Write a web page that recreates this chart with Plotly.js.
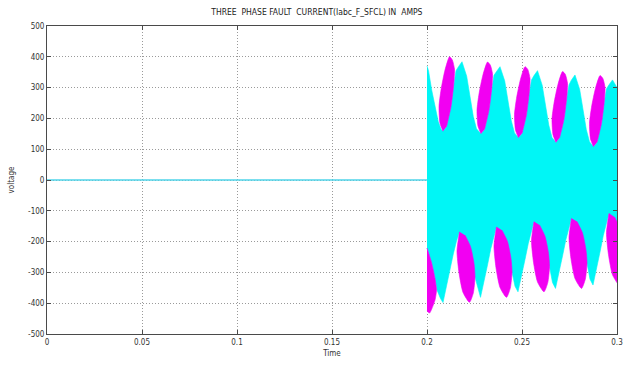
<!DOCTYPE html>
<html>
<head>
<meta charset="utf-8">
<script src="https://cdn.plot.ly/plotly-3.0.1.min.js"></script>
<style>html,body{margin:0;padding:0;background:#fff;}#chart{width:625px;height:369px;}</style>
</head>
<body>
<div id="chart"></div>
<script>
// ---- data ----
// pre-fault phase current (flat at zero until the fault at 0.2 s)
var preFaultTime = [0, 0.2];
var preFaultCurrent = [0, 0];

// outline of the cyan phase after the fault: upper envelope
var cyanUpperTime = [0.2, 0.20079, 0.20247, 0.20421, 0.20595, 0.20737, 0.20842, 0.21026, 0.21263, 0.21395, 0.21474, 0.21526, 0.21658, 0.21842,
  0.22089, 0.22263, 0.22437, 0.22605, 0.22842, 0.23026, 0.23263, 0.23395, 0.23474, 0.23526, 0.23658, 0.23842,
  0.24089, 0.24263, 0.24437, 0.24605, 0.24816, 0.25, 0.25237, 0.25368, 0.25447, 0.255, 0.25632, 0.25816,
  0.26063, 0.26237, 0.26411, 0.26579, 0.26789, 0.26974, 0.27211, 0.27342, 0.27421, 0.27474, 0.27605, 0.27789,
  0.28037, 0.28211, 0.28384, 0.28553, 0.28763, 0.28947, 0.29184, 0.29316, 0.29395, 0.29447, 0.29579, 0.29763, 0.3];
var cyanUpperCurrent = [370, 355, 292, 238, 189, 165, 158, 173, 238, 303, 335, 355, 368, 384,
  337, 272, 206, 166, 150, 164, 227, 290, 320, 340, 352, 368,
  322, 257, 192, 153, 137, 151, 213, 275, 306, 325, 339, 355,
  308, 243, 178, 138, 122, 136, 198, 260, 290, 309, 325, 341,
  294, 229, 164, 124, 108, 122, 184, 246, 277, 296, 309, 325, 300];

// outline of the cyan phase after the fault: lower envelope
var cyanLowerTime = [0.2, 0.20247, 0.20421, 0.20526, 0.20711, 0.20842, 0.21037, 0.21211, 0.21384, 0.21553, 0.21711,
  0.22526, 0.22684, 0.22816, 0.23011, 0.23184, 0.23358, 0.23526, 0.23658,
  0.24474, 0.24632, 0.24789, 0.24984, 0.25158, 0.25332, 0.255, 0.25632,
  0.26447, 0.26605, 0.26763, 0.26958, 0.27132, 0.27305, 0.27474, 0.27605,
  0.28421, 0.28579, 0.28737, 0.28932, 0.29105, 0.29279, 0.29447, 0.29579, 0.3];
var cyanLowerCurrent = [-221, -270, -320, -357, -385, -398, -346, -292, -240, -198, -168,
  -315, -351, -381, -328, -276, -223, -182, -152,
  -299, -345, -363, -311, -258, -206, -165, -135,
  -281, -333, -352, -300, -247, -195, -154, -124,
  -270, -322, -341, -287, -234, -180, -138, -108, -250];

// visible magenta phase (crests above the cyan band), one outline per crest, null between
var magentaUpperTime = [
  0.20842, 0.20684, 0.20632, 0.20737, 0.20947, 0.21184, 0.21332, 0.21447, 0.21432, 0.21395, 0.21263, 0.21026, null,
  0.22842, 0.22684, 0.22632, 0.22737, 0.22947, 0.23184, 0.23332, 0.23447, 0.23432, 0.23395, 0.23263, 0.23026, null,
  0.24816, 0.24658, 0.24605, 0.24711, 0.24921, 0.25158, 0.25305, 0.25421, 0.25405, 0.25368, 0.25237, 0.25, null,
  0.26789, 0.26632, 0.26579, 0.26684, 0.26895, 0.27132, 0.27279, 0.27395, 0.27379, 0.27342, 0.27211, 0.26974, null,
  0.28763, 0.28605, 0.28553, 0.28658, 0.28868, 0.29105, 0.29253, 0.29368, 0.29353, 0.29316, 0.29184, 0.28947];
var magentaUpperCurrent = [
  158, 184, 238, 292, 357, 400, 390, 360, 330, 303, 238, 173, null,
  150, 175, 227, 279, 342, 383, 373, 345, 316, 290, 227, 164, null,
  137, 162, 213, 265, 327, 368, 359, 330, 301, 275, 213, 151, null,
  122, 147, 198, 249, 311, 352, 343, 314, 286, 260, 198, 136, null,
  108, 133, 184, 236, 298, 339, 330, 301, 272, 246, 184, 122];

// visible magenta phase (troughs below the cyan band)
var magentaLowerTime = [
  0.2, 0.20247, 0.20421, 0.205, 0.20421, 0.20132, 0.2, null,
  0.21711, 0.21579, 0.21684, 0.21895, 0.22237, 0.22437, 0.22526, 0.22474, 0.22289, 0.22, null,
  0.23658, 0.23526, 0.23632, 0.23842, 0.24184, 0.24384, 0.24474, 0.24421, 0.24237, 0.23947, null,
  0.25632, 0.255, 0.25605, 0.25816, 0.26158, 0.26358, 0.26447, 0.26395, 0.26211, 0.25921, null,
  0.27605, 0.27474, 0.27579, 0.27789, 0.28132, 0.28332, 0.28421, 0.28368, 0.28184, 0.27895, null,
  0.29579, 0.29447, 0.29553, 0.29763, 0.30105, 0.30305, 0.30395, 0.30342, 0.30158, 0.29868];
var magentaLowerCurrent = [
  -221, -270, -320, -357, -390, -432, -425, null,
  -168, -230, -301, -365, -397, -367, -315, -271, -216, -179, null,
  -152, -214, -285, -349, -381, -351, -299, -255, -200, -163, null,
  -135, -197, -267, -331, -363, -333, -281, -238, -183, -146, null,
  -124, -186, -256, -320, -352, -322, -270, -227, -172, -135, null,
  -108, -171, -243, -308, -340, -310, -256, -212, -157, -120];

var xTickValues = [0, 0.05, 0.1, 0.15, 0.2, 0.25, 0.3];
var xTickLabels = ['0', '0.05', '0.1', '0.15', '0.2', '0.25', '0.3'];
var yTickValues = [-500, -400, -300, -200, -100, 0, 100, 200, 300, 400, 500];
var yTickLabels = ['-500', '-400', '-300', '-200', '-100', '0', '100', '200', '300', '400', '500'];

// ---- build traces ----
var CYAN = '#00f6f6';
var MAGENTA = '#f200f2';
var cyanPolyT = cyanUpperTime.concat(cyanLowerTime.slice().reverse());
var cyanPolyV = cyanUpperCurrent.concat(cyanLowerCurrent.slice().reverse());

var traces = [
  {x: preFaultTime, y: preFaultCurrent, type: 'scatter', mode: 'lines',
   line: {color: '#4fd4ea', width: 1.3}, hoverinfo: 'skip'},
  {x: cyanPolyT, y: cyanPolyV, type: 'scatter', mode: 'lines', fill: 'toself',
   fillcolor: CYAN, line: {color: CYAN, width: 0.6}, hoverinfo: 'skip'},
  {x: magentaUpperTime, y: magentaUpperCurrent, type: 'scatter', mode: 'lines', fill: 'toself',
   fillcolor: MAGENTA, line: {color: MAGENTA, width: 0.6, shape: 'spline', smoothing: 0.6},
   connectgaps: false, hoverinfo: 'skip'},
  {x: magentaLowerTime, y: magentaLowerCurrent, type: 'scatter', mode: 'lines', fill: 'toself',
   fillcolor: MAGENTA, line: {color: MAGENTA, width: 0.6, shape: 'spline', smoothing: 0.6},
   connectgaps: false, hoverinfo: 'skip'}
];

var FONT = 'Liberation Sans Narrow, DejaVu Sans Condensed, Arial Narrow, sans-serif';
var axisCommon = {
  showgrid: true, gridcolor: '#9a9a9a', griddash: '1px,2px', gridwidth: 1,
  zeroline: false, showline: true, linecolor: '#4a4a4a', linewidth: 1,
  mirror: 'ticks', ticks: 'inside', ticklen: 4, tickcolor: '#4a4a4a',
  tickfont: {family: FONT, size: 8, color: '#333'}
};

var layout = {
  width: 625, height: 369,
  margin: {l: 47, r: 8, t: 26, b: 35},
  paper_bgcolor: '#ffffff', plot_bgcolor: '#ffffff',
  showlegend: false,
  title: {text: 'THREE  PHASE FAULT  CURRENT(Iabc_F_SFCL) IN  AMPS',
          font: {family: FONT, size: 8.5, color: '#222'},
          x: 0.507, xanchor: 'center', y: 0.967, yanchor: 'middle'},
  xaxis: Object.assign({}, axisCommon, {
    range: [0, 0.3], tickmode: 'array', tickvals: xTickValues, ticktext: xTickLabels,
    title: {text: 'Time', font: {family: FONT, size: 8, color: '#333'}, standoff: 4}
  }),
  yaxis: Object.assign({}, axisCommon, {
    range: [-500, 500], tickmode: 'array', tickvals: yTickValues, ticktext: yTickLabels,
    title: {text: 'voltage', font: {family: FONT, size: 8, color: '#333'}, standoff: 12}
  })
};

Plotly.newPlot('chart', traces, layout, {displayModeBar: false, staticPlot: true});
</script>
</body>
</html>
